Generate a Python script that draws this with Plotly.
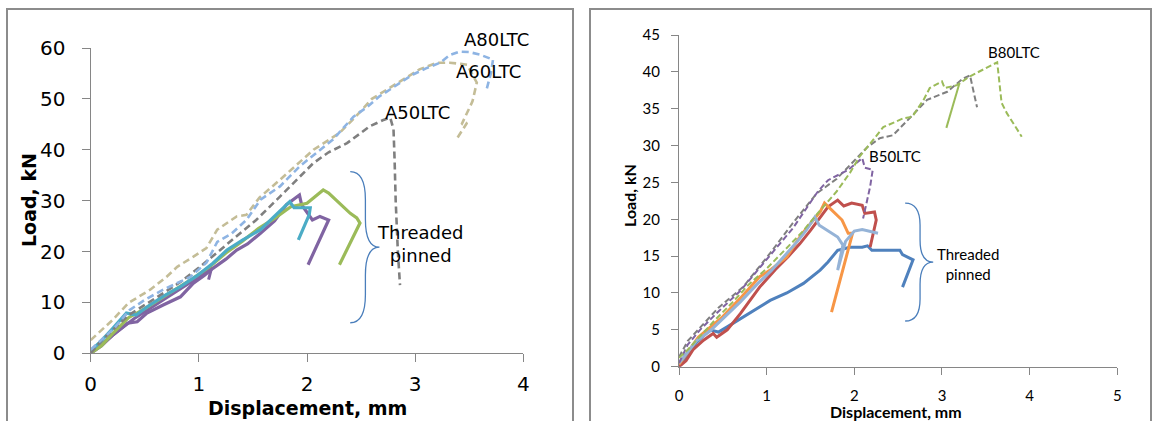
import plotly.graph_objects as go

# ---------------- Panel A: load-displacement, A series ----------------
a80_x = [0, 0.12, 0.22, 0.36, 0.5, 0.67, 0.8, 0.92, 1.07, 1.17, 1.3, 1.44, 1.57, 1.75, 1.93, 2.12, 2.24, 2.43,
         2.55, 2.67, 2.82, 2.98, 3.1, 3.23, 3.32, 3.41, 3.5, 3.6, 3.72, 3.7, 3.66]
a80_y = [0.7, 3, 5, 8.5, 10.5, 12.5, 13.8, 15, 17.8, 21.9, 23.5, 26.2, 30.2, 32.8, 36.7, 40, 42, 46.5,
         48.3, 50.5, 52.5, 54.8, 56, 57.1, 58.6, 59.3, 59.2, 58.7, 57.7, 55, 51.8]

a60_x = [0, 0.1, 0.2, 0.35, 0.55, 0.7, 0.8, 0.95, 1.07, 1.17, 1.35, 1.44, 1.56, 1.75, 1.9, 2.06, 2.3, 2.45,
         2.6, 2.75, 2.9, 3.04, 3.2, 3.32, 3.42, 3.48, 3.57, 3.53, 3.43, 3.48, 3.38]
a60_y = [2.6, 4.5, 6.5, 9.9, 12.5, 15, 17, 19, 20.7, 24.3, 26.9, 27.2, 30.6, 34.1, 37, 40, 43.3, 46.5,
         50, 52, 54, 55.8, 57.1, 57.1, 56.9, 56.7, 53.2, 49.5, 45, 45.3, 42]

a50_x = [0, 0.1, 0.2, 0.35, 0.5, 0.65, 0.83, 1.01, 1.22, 1.38, 1.53, 1.75, 1.9, 2.06, 2.2, 2.37, 2.58, 2.7,
         2.77, 2.8, 2.81, 2.82, 2.84, 2.86]
a50_y = [0, 2.5, 4.5, 7.5, 9.5, 11.5, 14, 17, 20.7, 23.6, 26.2, 30.8, 34, 37.4, 39.5, 41.3, 44.6, 45.8,
         46.3, 44, 38, 30, 20, 13.4]

tp_purple_x = [0, 0.1, 0.2, 0.34, 0.43, 0.52, 0.67, 0.83, 0.95, 1.05, 1.13, 1.25, 1.35, 1.45, 1.57, 1.7,
               1.81, 1.93, 1.95, 2.05, 2.12, 2.2, 2.01]
tp_purple_y = [0, 1.5, 3.5, 5.9, 6.2, 7.9, 9.5, 11.1, 13.8, 15.3, 16.7, 18.5, 20.3, 21.5, 23.6, 26,
               29.2, 31.1, 29.2, 26.2, 26.9, 26.2, 17.4]

tp_purple2_x = [0, 0.2, 0.4, 0.6, 0.8, 1.0, 1.12, 1.09]
tp_purple2_y = [0, 3.5, 6.8, 9.5, 12.3, 15, 17, 14.5]

tp_green_x = [0, 0.1, 0.2, 0.35, 0.5, 0.65, 0.8, 0.95, 1.1, 1.25, 1.4, 1.55, 1.7, 1.85, 2.0, 2.09, 2.15,
              2.2, 2.3, 2.4, 2.46, 2.49, 2.3]
tp_green_y = [0, 1.5, 3.8, 7, 8.8, 10.8, 12.8, 14.8, 17, 19.7, 22, 24.5, 26.5, 28.8, 29.5, 31, 32.1,
              31.5, 29.5, 27.5, 26.6, 25.6, 17.4]

tp_teal_x = [0, 0.1, 0.2, 0.33, 0.42, 0.52, 0.67, 0.83, 0.98, 1.13, 1.26, 1.4, 1.57, 1.7, 1.84, 1.88,
             2.03, 2.02, 1.92]
tp_teal_y = [0.5, 2.5, 4.8, 7.9, 7.5, 9.1, 11.2, 13.1, 15.2, 17.7, 20.3, 22.2, 24.3, 27, 29.8, 28.6,
             28.6, 27.2, 22.3]

# ---------------- Panel B: load-displacement, B series ----------------
b_blue_x = [0, 0.1, 0.2, 0.35, 0.45, 0.55, 0.73, 0.9, 1.04, 1.23, 1.42, 1.61, 1.7, 1.81, 1.95, 2.09, 2.15,
            2.2, 2.35, 2.52, 2.55, 2.67, 2.55]
b_blue_y = [0, 1.6, 3.3, 5.0, 4.7, 5.4, 6.7, 8.0, 9.0, 10.0, 11.3, 13.1, 14.2, 15.8, 16.2, 16.2, 16.4,
            15.8, 15.8, 15.8, 15.2, 14.5, 10.8]

b_red_x = [0, 0.08, 0.16, 0.28, 0.39, 0.43, 0.55, 0.7, 0.92, 1.1, 1.25, 1.38, 1.5, 1.61, 1.7, 1.81, 1.88,
           1.97, 2.09, 2.12, 2.23, 2.25, 2.18]
b_red_y = [0, 0.8, 2.3, 3.6, 4.5, 4.0, 5.0, 7.2, 10.8, 13.2, 15.0, 16.7, 18.5, 20.3, 21.7, 22.6, 21.8,
           22.2, 21.9, 20.8, 21.0, 19.9, 16.2]

b_orange_x = [0, 0.1, 0.22, 0.35, 0.5, 0.7, 0.92, 1.05, 1.23, 1.4, 1.61, 1.66, 1.74, 1.86, 1.93, 1.98, 1.74]
b_orange_y = [0.3, 2.0, 4.0, 5.3, 6.8, 9.3, 12.2, 13.2, 14.9, 18.0, 21.0, 22.2, 21.3, 19.9, 18.1, 18.1, 7.4]

b_ltblue_x = [0, 0.1, 0.2, 0.35, 0.5, 0.7, 0.9, 1.05, 1.2, 1.35, 1.45, 1.55, 1.6, 1.81, 1.87, 1.81, 1.9,
              2.0, 2.09, 2.23, 2.27]
b_ltblue_y = [0.5, 2.0, 3.5, 4.8, 6.5, 8.8, 11.3, 13.0, 15.0, 17.0, 18.5, 20.3, 19.2, 17.6, 16.5, 13.1,
              17.0, 18.4, 18.6, 18.2, 18.1]

b80_x = [0, 0.1, 0.2, 0.4, 0.6, 0.8, 1.0, 1.2, 1.4, 1.61, 1.8, 1.95, 2.06, 2.21, 2.33, 2.56, 2.66, 2.79,
         2.86, 3.0, 3.03, 3.17, 3.32, 3.5, 3.63, 3.68, 3.74, 3.91]
b80_y = [1.2, 2.3, 3.6, 6.2, 8.6, 11.2, 13.3, 15.8, 18.2, 21.2, 23.8, 26.3, 28.5, 30.7, 32.5, 33.7, 33.9,
         36.2, 37.8, 38.7, 37.8, 38.2, 39.4, 40.5, 41.3, 35.8, 34.4, 31.2]

b_green_x = [3.2, 3.05]
b_green_y = [38.5, 32.4]

b_grey_x = [0, 0.1, 0.24, 0.45, 0.73, 1.04, 1.3, 1.57, 1.8, 2.0, 2.15, 2.29, 2.44, 2.63, 2.83, 3.06, 3.24,
            3.32, 3.36, 3.4]
b_grey_y = [1.3, 3.5, 5.3, 8.0, 10.8, 15.4, 19.5, 23.5, 25.5, 28.0, 29.8, 31.0, 31.4, 33.7, 36.2, 37.3,
            39.1, 39.5, 37.5, 35.2]

b50_x = [0, 0.1, 0.24, 0.45, 0.7, 1.0, 1.3, 1.58, 1.7, 1.93, 2.09, 2.12, 2.21, 2.18, 2.12, 2.1]
b50_y = [0.5, 3.0, 5.0, 7.5, 10.3, 14.5, 18.8, 23.7, 25.3, 26.7, 28.3, 27.0, 26.7, 24.4, 21.3, 20.1]

W, H = 1154, 421
AXIS = "#868686"
FONT_A = "DejaVu Sans"
FONT_B = "Lato"
DASH = "7px,4px"

fig = go.Figure()


def add(x, y, color, width, dash="solid", axis="A"):
    fig.add_trace(go.Scatter(
        x=x, y=y, mode="lines",
        line=dict(color=color, width=width, dash=dash),
        xaxis="x" if axis == "A" else "x2",
        yaxis="y" if axis == "A" else "y2",
        showlegend=False, hoverinfo="skip"))


# panel A curves
add(tp_purple2_x, tp_purple2_y, "#8064A2", 3)
add(tp_purple_x, tp_purple_y, "#8064A2", 3.2)
add(tp_green_x, tp_green_y, "#9BBB59", 3.2)
add(tp_teal_x, tp_teal_y, "#4BACC6", 3.2)
add(a50_x, a50_y, "#7F7F7F", 2.6, DASH)
add(a60_x, a60_y, "#C4BD97", 2.6, DASH)
add(a80_x, a80_y, "#8EB4E3", 2.6, DASH)

# panel B curves
add(b_blue_x, b_blue_y, "#4F81BD", 3, axis="B")
add(b_red_x, b_red_y, "#C0504D", 3, axis="B")
add(b_orange_x, b_orange_y, "#F79646", 3, axis="B")
add(b_ltblue_x, b_ltblue_y, "#95B3D7", 3, axis="B")
add(b_green_x, b_green_y, "#9BBB59", 2, axis="B")
add(b_grey_x, b_grey_y, "#7F7F7F", 2, "6px,3px", axis="B")
add(b50_x, b50_y, "#8064A2", 2, "6px,3px", axis="B")
add(b80_x, b80_y, "#9BBB59", 2, "6px,3px", axis="B")


def px_x(p):
    return p / W


def px_y(p):
    return 1 - p / H


common = dict(showline=True, linecolor=AXIS, linewidth=1.3, ticks="outside", tickcolor=AXIS,
              tickwidth=1.3, showgrid=False, zeroline=False, fixedrange=True, automargin=False)

fig.update_layout(
    width=W, height=H, autosize=False,
    margin=dict(l=0, r=0, t=0, b=0, pad=0, autoexpand=False),
    paper_bgcolor="white", plot_bgcolor="rgba(0,0,0,0)",
    xaxis=dict(domain=[px_x(90.7), px_x(523.3)], range=[0, 4], tickvals=[0, 1, 2, 3, 4],
               ticklen=8, tickfont=dict(family=FONT_A, size=20, color="#000"),
               ticklabelstandoff=5, anchor="y", **common),
    yaxis=dict(domain=[px_y(353.3), px_y(48)], range=[0, 60], tickvals=[0, 10, 20, 30, 40, 50, 60],
               ticklen=8, tickfont=dict(family=FONT_A, size=20, color="#000"),
               ticklabelstandoff=12, anchor="x", **common),
    xaxis2=dict(domain=[px_x(679), px_x(1117.3)], range=[0, 5], tickvals=[0, 1, 2, 3, 4, 5],
                ticklen=7, tickfont=dict(family=FONT_B, size=15, color="#000"),
                ticklabelstandoff=8, anchor="y2", **common),
    yaxis2=dict(domain=[px_y(366.7), px_y(35)], range=[0, 45],
                tickvals=[0, 5, 10, 15, 20, 25, 30, 35, 40, 45],
                ticklen=7, tickfont=dict(family=FONT_B, size=15, color="#000"),
                ticklabelstandoff=8, anchor="x2", **common),
)

# chart frames
frame = dict(type="rect", xref="paper", yref="paper", line=dict(color="#8C8C8C", width=2),
             fillcolor="rgba(0,0,0,0)", layer="below")
fig.add_shape(x0=px_x(7), x1=px_x(573), y0=-0.05, y1=px_y(9), **frame)
fig.add_shape(x0=px_x(590), x1=px_x(1151), y0=-0.05, y1=px_y(9), **frame)


def brace(x_end, x_spine, x_tip, y_top, y_bot, dy, xr, yr):
    ym = (y_top + y_bot) / 2
    path = (f"M {x_end},{y_top} Q {x_spine},{y_top} {x_spine},{y_top - dy} "
            f"L {x_spine},{ym + dy} Q {x_spine},{ym} {x_tip},{ym} "
            f"Q {x_spine},{ym} {x_spine},{ym - dy} "
            f"L {x_spine},{y_bot + dy} Q {x_spine},{y_bot} {x_end},{y_bot}")
    fig.add_shape(type="path", path=path, xref=xr, yref=yr,
                  line=dict(color="#4A7EBB", width=1.3))


brace(2.40, 2.54, 2.67, 35.7, 6.0, 5.5, "x", "y")
brace(2.58, 2.75, 2.90, 22.2, 6.2, 3.0, "x2", "y2")

ann = []


def label(text, x, y, xr, yr, family, size, bold=False, angle=0, xanchor="center"):
    t = f"<b>{text}</b>" if bold else text
    ann.append(dict(text=t, x=x, y=y, xref=xr, yref=yr, showarrow=False, textangle=angle,
                    xanchor=xanchor, yanchor="middle",
                    font=dict(family=family, size=size, color="#000")))


# series labels (A80LTC sits above the top of the y range, so it is placed on the page)
label("A80LTC", px_x(496), px_y(40), "paper", "paper", FONT_A, 18)
label("A60LTC", 3.68, 55.4, "x", "y", FONT_A, 18)
label("A50LTC", 3.02, 47.3, "x", "y", FONT_A, 18)
label("Threaded<br>pinned", 2.63, 21.4, "x", "y", FONT_A, 18, xanchor="left")
label("B80LTC", 3.82, 42.7, "x2", "y2", FONT_B, 15)
label("B50LTC", 2.46, 28.6, "x2", "y2", FONT_B, 15)
label("Threaded<br>pinned", 2.92, 14.0, "x2", "y2", FONT_B, 15, xanchor="left")

# axis titles
label("Load, kN", px_x(29), px_y(200), "paper", "paper", FONT_A, 19, bold=True, angle=-90)
label("Displacement, mm", px_x(307), px_y(408), "paper", "paper", FONT_A, 19, bold=True)
label("Load, kN", px_x(629), px_y(196), "paper", "paper", FONT_B, 16, bold=True, angle=-90)
label("Displacement, mm", px_x(896), px_y(411), "paper", "paper", FONT_B, 16, bold=True)

fig.update_layout(annotations=ann)
fig.write_html("out.html")
